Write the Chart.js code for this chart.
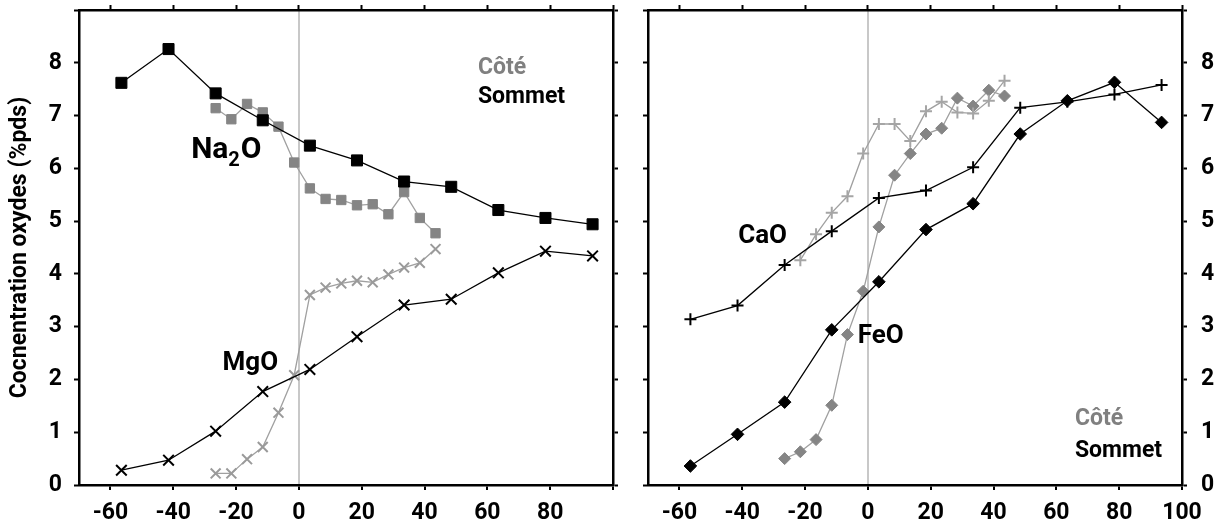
<!DOCTYPE html>
<html>
<head>
<meta charset="utf-8">
<script src="https://cdn.jsdelivr.net/npm/chart.js@4.4.1/dist/chart.umd.min.js"></script>
<style>
  html, body { margin: 0; padding: 0; background: #fff; }
  #wrap { position: relative; width: 1222px; height: 524px; }
  canvas { position: absolute; top: 0; }
  #left { left: 0; }
  #right { left: 630px; }
</style>
</head>
<body>
<div id="wrap">
  <canvas id="left" width="630" height="524"></canvas>
  <canvas id="right" width="592" height="524"></canvas>
</div>
<script>
const FONT = "Roboto, 'DejaVu Sans Condensed', sans-serif";

// distances (x) of the analysed points
const sommetX = [-56.5, -41.5, -26.5, -11.5, 3.5, 18.5, 33.5, 48.5, 63.5, 78.5, 93.5];
const coteX = [-26.5, -21.5, -16.5, -11.5, -6.5, -1.5, 3.5, 8.5, 13.5, 18.5, 23.5, 28.5, 33.5, 38.5, 43.5];
const caoCoteX = [-21.5, -16.5, -11.5, -6.5, -1.5, 3.5, 8.5, 13.5, 18.5, 23.5, 28.5, 33.5, 38.5, 43.5];

// left panel
const na2oSommet = [7.62, 8.26, 7.42, 6.91, 6.43, 6.15, 5.75, 5.65, 5.21, 5.06, 4.94];
const mgoSommet = [0.28, 0.47, 1.02, 1.77, 2.19, 2.81, 3.41, 3.52, 4.02, 4.43, 4.34];
const na2oCote = [7.14, 6.93, 7.22, 7.06, 6.79, 6.11, 5.62, 5.42, 5.40, 5.30, 5.32, 5.13, 5.55, 5.06, 4.77];
const mgoCote = [0.22, 0.22, 0.49, 0.72, 1.37, 2.08, 3.60, 3.74, 3.82, 3.87, 3.84, 3.99, 4.12, 4.21, 4.47];

// right panel
const caoSommet = [3.14, 3.40, 4.17, 4.81, 5.44, 5.58, 6.02, 7.15, 7.26, 7.40, 7.58];
const feoSommet = [0.36, 0.96, 1.57, 2.94, 3.85, 4.84, 5.33, 6.65, 7.28, 7.63, 6.87];
const caoCote = [4.26, 4.75, 5.16, 5.47, 6.28, 6.84, 6.84, 6.52, 7.08, 7.26, 7.06, 7.04, 7.28, 7.66];
const feoCote = [0.50, 0.63, 0.86, 1.51, 2.85, 3.67, 4.89, 5.87, 6.28, 6.65, 6.76, 7.33, 7.18, 7.48, 7.37];

const yTitle = 'Cocnentration oxydes (%pds)';

// text labels inside the plots: [text, subscript?] parts, placed in data units (left / baseline)
const leftNotes = [
  { parts: [['Na', 0], ['2', 1], ['O', 0]], x: -34.3, y: 6.19, size: 30, color: '#000' },
  { parts: [['MgO', 0]], x: -24.3, y: 2.17, size: 26, color: '#000' },
  { parts: [['Côté', 0]], x: 57, y: 7.79, size: 23, color: '#808080' },
  { parts: [['Sommet', 0]], x: 57, y: 7.23, size: 23, color: '#000' },
];
const rightNotes = [
  { parts: [['CaO', 0]], x: -41.3, y: 4.59, size: 26, color: '#000' },
  { parts: [['FeO', 0]], x: -3.2, y: 2.70, size: 26, color: '#000' },
  { parts: [['Côté', 0]], x: 65.9, y: 1.13, size: 23, color: '#808080' },
  { parts: [['Sommet', 0]], x: 65.9, y: 0.53, size: 23, color: '#000' },
];

const pts = (xs, ys) => xs.map((x, i) => ({ x, y: ys[i] }));

function sommetSet(label, xs, ys, style, radius) {
  return {
    label, data: pts(xs, ys),
    borderColor: '#000', borderWidth: 1.3,
    pointStyle: style, pointRadius: radius,
    pointBackgroundColor: '#000', pointBorderColor: '#000',
    pointBorderWidth: style.startsWith('cross') ? 2 : 1,
  };
}

function coteSet(label, xs, ys, style, radius, color) {
  return {
    label, data: pts(xs, ys),
    borderColor: '#a0a0a0', borderWidth: 1.3,
    pointStyle: style, pointRadius: radius,
    pointBackgroundColor: color, pointBorderColor: color,
    pointBorderWidth: style.startsWith('cross') ? 2 : 1,
  };
}

function notesPlugin(items) {
  return {
    id: 'notes',
    afterDatasetsDraw(chart) {
      const ctx = chart.ctx;
      const sx = chart.scales.x, sy = chart.scales.y;
      items.forEach(n => {
        let px = sx.getPixelForValue(n.x);
        const py = sy.getPixelForValue(n.y);
        ctx.save();
        ctx.fillStyle = n.color;
        ctx.textBaseline = 'alphabetic';
        n.parts.forEach(([txt, sub]) => {
          const size = sub ? Math.round(n.size * 0.65) : n.size;
          ctx.font = `bold ${size}px ${FONT}`;
          ctx.fillText(txt, px, py + (sub ? 8 : 0));
          px += ctx.measureText(txt).width + (sub ? 1 : 0);
        });
        ctx.restore();
      });
    }
  };
}

const tickFont = { family: FONT, size: 23, weight: 'bold' };

// keep the plot frame where the reference has it, whatever the labels measure
function fixH(h) {
  return s => { s.height = h; s.paddingLeft = 0; s.paddingRight = 0; };
}
function fixW(w) {
  return s => { s.width = w; s.paddingTop = 0; s.paddingBottom = 0; };
}

function makePanel(id, datasets, notes, side) {
  const leftPanel = side === 'left';
  const W = leftPanel ? 630 : 592;
  const frame = { color: '#000', width: 2.5 };
  const tickGrid = { drawOnChartArea: false, tickLength: 5, tickColor: '#000', tickWidth: 2 };

  new Chart(document.getElementById(id), {
    type: 'line',
    data: { datasets },
    options: {
      responsive: false,
      animation: false,
      devicePixelRatio: 1,
      layout: { padding: 0 },
      plugins: { legend: { display: false }, tooltip: { enabled: false } },
      scales: {
        x: {
          type: 'linear', position: 'bottom', min: -70, max: 100,
          border: frame,
          grid: {
            drawOnChartArea: true, tickLength: 5, tickColor: '#000', tickWidth: 2, lineWidth: 2,
            color: c => c.tick && c.tick.value === 0 ? '#c8c8c8' : 'rgba(0,0,0,0)',
          },
          ticks: {
            stepSize: 20, includeBounds: false, autoSkip: false, maxRotation: 0,
            color: '#000', font: tickFont, padding: 9,
            callback: v => (leftPanel && v === 100) ? '' : String(v),
          },
          afterFit: fixH(39),
        },
        x2: {
          type: 'linear', axis: 'x', position: 'top', min: -70, max: 100,
          border: frame, grid: tickGrid,
          ticks: { stepSize: 20, includeBounds: false, display: false },
          afterFit: fixH(10),
        },
        y: {
          type: 'linear', position: 'left', min: 0, max: 9,
          border: frame, grid: tickGrid,
          ticks: {
            stepSize: 1, includeBounds: false, display: leftPanel,
            color: '#000', font: tickFont, padding: 12,
            callback: v => v === 9 ? '' : String(v),
          },
          title: {
            display: leftPanel, text: yTitle, color: '#000',
            font: { family: FONT, size: 23, weight: 'bold' }, padding: { top: 6, bottom: 0 },
          },
          afterFit: fixW(leftPanel ? 79 : 18),
        },
        y2: {
          type: 'linear', axis: 'y', position: 'right', min: 0, max: 9,
          border: frame, grid: tickGrid,
          ticks: {
            stepSize: 1, includeBounds: false, display: !leftPanel,
            color: '#000', font: tickFont, padding: 14,
            callback: v => v === 9 ? '' : String(v),
          },
          afterFit: fixW(leftPanel ? W - 613 : W - 552),
        },
      },
    },
    plugins: [notesPlugin(notes)],
  });
}

makePanel('left', [
  sommetSet('Na2O Sommet', sommetX, na2oSommet, 'rect', 7.8),
  sommetSet('MgO Sommet', sommetX, mgoSommet, 'crossRot', 7.5),
  coteSet('Na2O Côté', coteX, na2oCote, 'rect', 6.6, '#858585'),
  coteSet('MgO Côté', coteX, mgoCote, 'crossRot', 7, '#9a9a9a'),
], leftNotes, 'left');

makePanel('right', [
  sommetSet('CaO Sommet', sommetX, caoSommet, 'cross', 6),
  sommetSet('FeO Sommet', sommetX, feoSommet, 'rectRot', 6.3),
  coteSet('CaO Côté', caoCoteX, caoCote, 'cross', 6, '#a5a5a5'),
  coteSet('FeO Côté', coteX, feoCote, 'rectRot', 6, '#858585'),
], rightNotes, 'right');
</script>
</body>
</html>
